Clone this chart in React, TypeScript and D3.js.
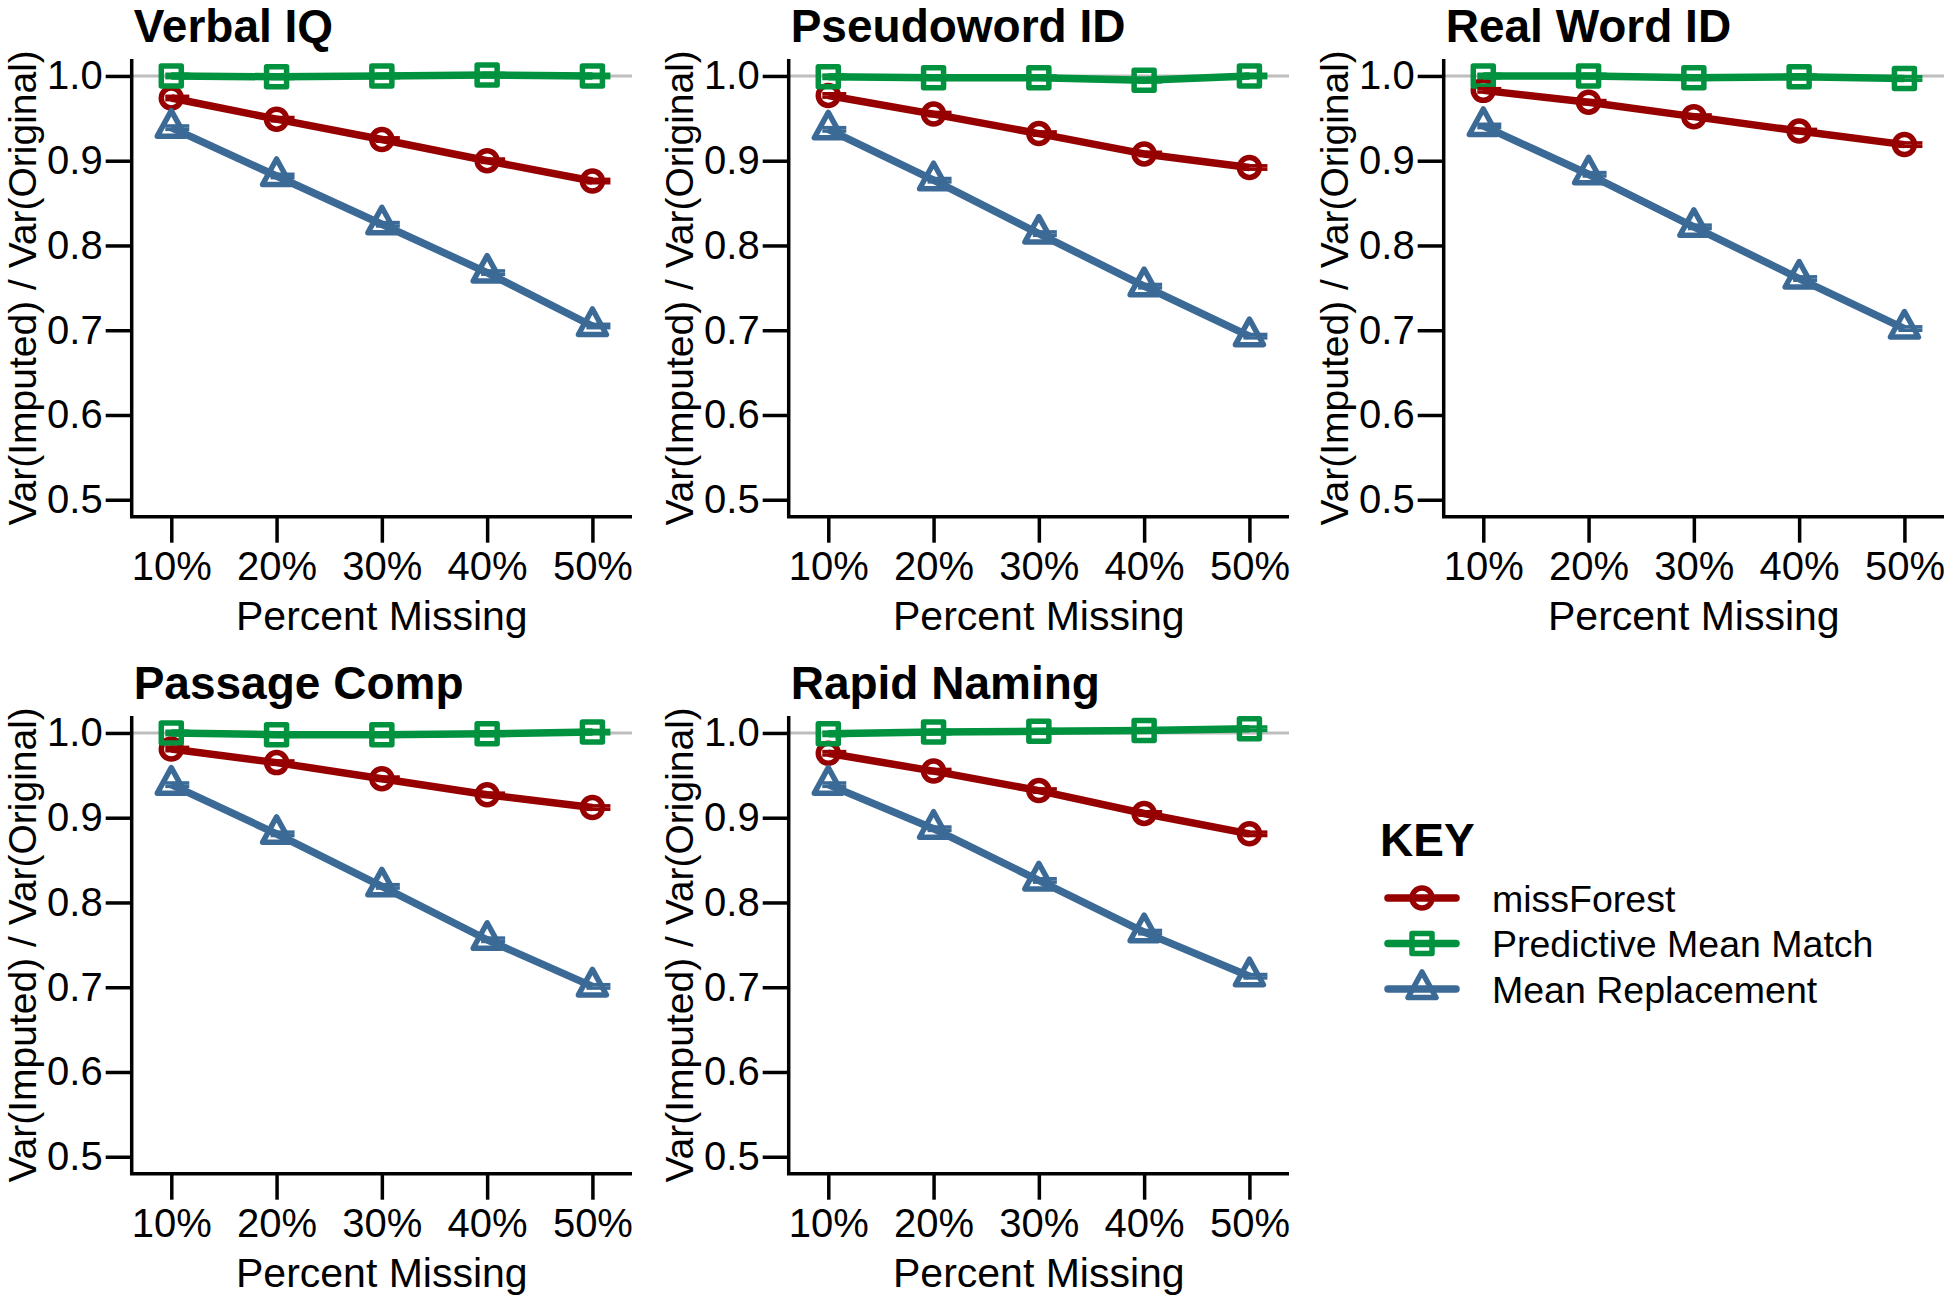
import { useRef, useEffect } from 'react';
import * as d3 from 'd3';

// categories and labels
const percentMissing = [1, 2, 3, 4, 5];
const percentLabels = ['10%', '20%', '30%', '40%', '50%'];
const yTickValues = [0.5, 0.6, 0.7, 0.8, 0.9, 1.0];
const methods = ['missForest', 'Predictive Mean Match', 'Mean Replacement'];
const panelTitles = ['Verbal IQ', 'Pseudoword ID', 'Real Word ID', 'Passage Comp', 'Rapid Naming'];

// values, one array per panel and method
const missForestVerbalIQ = [0.974, 0.949, 0.925, 0.9, 0.876];
const pmmVerbalIQ = [1.0, 0.999, 1.0, 1.001, 1.0];
const meanRepVerbalIQ = [0.939, 0.882, 0.825, 0.768, 0.705];

const missForestPseudoword = [0.977, 0.955, 0.932, 0.908, 0.892];
const pmmPseudoword = [0.999, 0.998, 0.998, 0.995, 1.0];
const meanRepPseudoword = [0.937, 0.877, 0.814, 0.752, 0.693];

const missForestRealWord = [0.983, 0.969, 0.952, 0.935, 0.919];
const pmmRealWord = [1.0, 1.0, 0.998, 0.999, 0.997];
const meanRepRealWord = [0.941, 0.884, 0.822, 0.761, 0.702];

const missForestPassage = [0.981, 0.965, 0.946, 0.927, 0.912];
const pmmPassage = [1.0, 0.998, 0.998, 0.999, 1.001];
const meanRepPassage = [0.939, 0.881, 0.819, 0.756, 0.701];

const missForestRapid = [0.976, 0.955, 0.932, 0.905, 0.881];
const pmmRapid = [0.999, 1.001, 1.002, 1.003, 1.005];
const meanRepRapid = [0.939, 0.887, 0.826, 0.765, 0.713];

// half width of the (tiny) error bars
const errorHalf = [0.002, 0.002, 0.002];

const panelSeries = [
  [missForestVerbalIQ, pmmVerbalIQ, meanRepVerbalIQ],
  [missForestPseudoword, pmmPseudoword, meanRepPseudoword],
  [missForestRealWord, pmmRealWord, meanRepRealWord],
  [missForestPassage, pmmPassage, meanRepPassage],
  [missForestRapid, pmmRapid, meanRepRapid],
];

const colors = ['#960000', '#00923f', '#3c6a96'];
const shapes = ['circle', 'square', 'triangle'];
const FONT = '"Liberation Sans", Arial, Helvetica, sans-serif';

const colOffsets = [0, 657, 1312];
const rowOffsets = [0, 657];

function markerPath(shape: string, cx: number, cy: number) {
  const p = d3.path();
  if (shape === 'circle') {
    p.arc(cx, cy, 10, 0, Math.PI * 2);
  } else if (shape === 'square') {
    p.rect(cx - 10, cy - 10, 20, 20);
  } else {
    p.moveTo(cx, cy - 17);
    p.lineTo(cx + 14, cy + 8.5);
    p.lineTo(cx - 14, cy + 8.5);
    p.closePath();
  }
  return p.toString();
}

const App = () => {
  const svgRef = useRef<SVGSVGElement>(null);

  useEffect(() => {
    const svg = d3.select(svgRef.current);
    svg.selectAll('*').remove();

    const x = d3.scaleLinear().domain([0.624, 5.376]).range([131.7, 632]);
    const y = d3.scaleLinear().domain([0.48, 1.02]).range([516.7, 59]);

    const line = d3.line<number>()
      .x((_, i) => x(percentMissing[i]))
      .y(d => y(d));

    panelSeries.forEach((series, p) => {
      const g = svg.append('g')
        .attr('transform', `translate(${colOffsets[p % 3]},${rowOffsets[Math.floor(p / 3)]})`);

      // title
      g.append('text')
        .attr('x', x.range()[0] + 2)
        .attr('y', 42)
        .attr('font-family', FONT)
        .attr('font-weight', 'bold')
        .attr('font-size', 46)
        .text(panelTitles[p]);

      // reference line at 1.0
      g.append('line')
        .attr('x1', x.range()[0]).attr('x2', x.range()[1])
        .attr('y1', y(1)).attr('y2', y(1))
        .attr('stroke', '#bebebe').attr('stroke-width', 3);

      // series
      series.forEach((vals, s) => {
        g.append('path')
          .attr('d', line(vals))
          .attr('fill', 'none')
          .attr('stroke', colors[s])
          .attr('stroke-width', 7.5)
          .attr('stroke-linejoin', 'round');
        g.selectAll(null)
          .data(vals)
          .enter().append('path')
          .attr('d', (d, i) => markerPath(shapes[s], x(percentMissing[i]), y(d)))
          .attr('fill', 'none')
          .attr('stroke', colors[s])
          .attr('stroke-width', 5.5)
          .attr('stroke-linejoin', 'round');
      });

      // error bar caps
      series.forEach((vals, s) => {
        [-1, 1].forEach(sign => {
          g.selectAll(null)
            .data(vals)
            .enter().append('line')
            .attr('x1', (_, i) => x(percentMissing[i]) - 6)
            .attr('x2', (_, i) => x(percentMissing[i]) + 18)
            .attr('y1', d => y(d + sign * errorHalf[s]))
            .attr('y2', d => y(d + sign * errorHalf[s]))
            .attr('stroke', colors[s])
            .attr('stroke-width', 3.5);
        });
      });

      // L-shaped box
      g.append('path')
        .attr('d', `M${x.range()[0]},${y.range()[1]}V${y.range()[0]}H${x.range()[1]}`)
        .attr('fill', 'none')
        .attr('stroke', '#000')
        .attr('stroke-width', 3.5);

      const yAxis = g.append('g')
        .attr('transform', `translate(${x.range()[0]},0)`)
        .call(d3.axisLeft(y).tickValues(yTickValues).tickSize(26).tickPadding(3).tickFormat(d3.format('.1f')));
      const xAxis = g.append('g')
        .attr('transform', `translate(0,${y.range()[0]})`)
        .call(d3.axisBottom(x).tickValues(percentMissing).tickSize(26).tickPadding(9)
          .tickFormat((d) => percentLabels[(d as number) - 1]));

      [yAxis, xAxis].forEach(ax => {
        ax.select('.domain').remove();
        ax.selectAll('line').attr('stroke', '#000').attr('stroke-width', 3.5);
        ax.selectAll('text')
          .attr('font-family', FONT)
          .attr('font-size', 40)
          .attr('fill', '#000');
      });

      // axis titles
      g.append('text')
        .attr('x', (x.range()[0] + x.range()[1]) / 2)
        .attr('y', 630)
        .attr('text-anchor', 'middle')
        .attr('font-family', FONT)
        .attr('font-size', 41)
        .text('Percent Missing');

      g.append('text')
        .attr('transform', `translate(36,${(y.range()[0] + y.range()[1]) / 2}) rotate(-90)`)
        .attr('text-anchor', 'middle')
        .attr('font-family', FONT)
        .attr('font-size', 39)
        .text('Var(Imputed) / Var(Original)');
    });

    // legend
    const legend = svg.append('g');
    legend.append('text')
      .attr('x', 1380)
      .attr('y', 856)
      .attr('font-family', FONT)
      .attr('font-weight', 'bold')
      .attr('font-size', 46)
      .text('KEY');

    const rowY = d3.scalePoint<string>().domain(methods).range([898, 989]);
    methods.forEach((m, s) => {
      const cy = rowY(m) as number;
      legend.append('line')
        .attr('x1', 1388).attr('x2', 1456)
        .attr('y1', cy).attr('y2', cy)
        .attr('stroke', colors[s])
        .attr('stroke-width', 7.5)
        .attr('stroke-linecap', 'round');
      legend.append('path')
        .attr('d', markerPath(shapes[s], 1422, cy))
        .attr('fill', 'none')
        .attr('stroke', colors[s])
        .attr('stroke-width', 5.5)
        .attr('stroke-linejoin', 'round');
      legend.append('text')
        .attr('x', 1492)
        .attr('y', cy)
        .attr('dy', '0.36em')
        .attr('font-family', FONT)
        .attr('font-size', 37.5)
        .text(m);
    });
  }, []);

  return (
    <svg
      ref={svgRef}
      width={1950}
      height={1297}
      style={{ position: 'absolute', left: 0, top: 0, background: '#fff' }}
    />
  );
};

export default App;
